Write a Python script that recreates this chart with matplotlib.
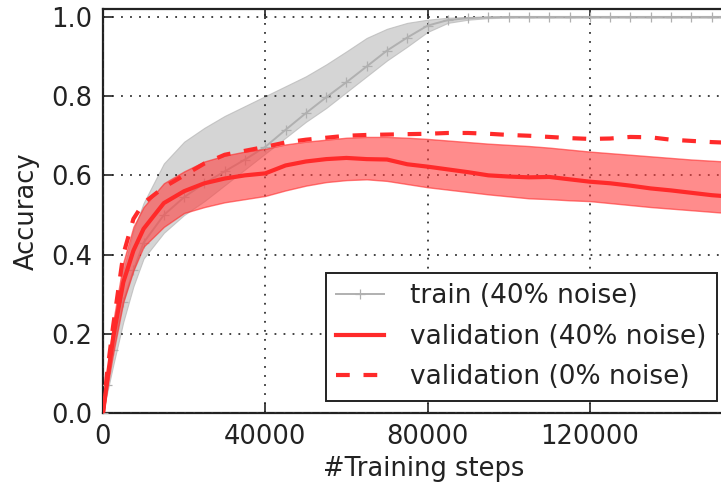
import numpy as np
import matplotlib
matplotlib.use("Agg")
import matplotlib.pyplot as plt

# training steps at which the curves were sampled
steps = [0, 1000, 2500, 5000, 7500, 10000, 15000, 20000, 25000, 30000, 35000,
         40000, 45000, 50000, 55000, 60000, 65000, 70000, 75000, 80000, 85000,
         90000, 95000, 100000, 105000, 110000, 115000, 120000, 125000, 130000,
         135000, 140000, 145000, 150000, 155000]

# train accuracy, 40% label noise (mean, lower, upper)
train_mean = [0.0, 0.07, 0.16, 0.28, 0.36, 0.43, 0.50, 0.545, 0.58, 0.61, 0.64,
              0.672, 0.715, 0.757, 0.797, 0.835, 0.875, 0.915, 0.948, 0.978, 0.992,
              0.997, 0.999, 1.0, 1.0, 1.0, 1.0, 1.0, 1.0, 1.0,
              1.0, 1.0, 1.0, 1.0, 1.0]
train_lo = [0.0, 0.05, 0.12, 0.23, 0.32, 0.39, 0.455, 0.50, 0.535, 0.575, 0.615,
            0.655, 0.695, 0.735, 0.77, 0.81, 0.85, 0.89, 0.925, 0.962, 0.985,
            0.993, 0.997, 0.998, 0.998, 0.998, 0.998, 0.998, 0.998, 0.998,
            0.998, 0.998, 0.998, 0.998, 0.998]
train_hi = [0.0, 0.10, 0.22, 0.36, 0.46, 0.53, 0.63, 0.685, 0.72, 0.75, 0.775,
            0.80, 0.825, 0.85, 0.88, 0.913, 0.947, 0.97, 0.985, 0.993, 0.998,
            1.0, 1.0, 1.0, 1.0, 1.0, 1.0, 1.0, 1.0, 1.0,
            1.0, 1.0, 1.0, 1.0, 1.0]

# validation accuracy, 40% label noise (mean, lower, upper)
val_mean = [0.0, 0.08, 0.19, 0.33, 0.41, 0.465, 0.53, 0.56, 0.58, 0.592, 0.60,
            0.605, 0.625, 0.635, 0.641, 0.644, 0.641, 0.64, 0.628, 0.622, 0.615,
            0.608, 0.60, 0.597, 0.595, 0.596, 0.59, 0.584, 0.58, 0.574,
            0.567, 0.562, 0.556, 0.55, 0.546]
val_lo = [0.0, 0.06, 0.15, 0.28, 0.36, 0.42, 0.47, 0.505, 0.52, 0.532, 0.54,
          0.548, 0.562, 0.574, 0.583, 0.588, 0.59, 0.586, 0.578, 0.57, 0.564,
          0.558, 0.552, 0.547, 0.542, 0.54, 0.537, 0.535, 0.53, 0.525,
          0.52, 0.516, 0.512, 0.508, 0.504]
val_hi = [0.0, 0.10, 0.23, 0.38, 0.47, 0.52, 0.58, 0.61, 0.635, 0.65, 0.66,
          0.667, 0.678, 0.685, 0.69, 0.695, 0.697, 0.697, 0.695, 0.692, 0.688,
          0.684, 0.68, 0.677, 0.674, 0.67, 0.665, 0.66, 0.656, 0.652,
          0.648, 0.644, 0.64, 0.637, 0.634]

# validation accuracy, clean labels
clean_val = [0.0, 0.10, 0.22, 0.40, 0.49, 0.53, 0.57, 0.60, 0.63, 0.652, 0.662,
             0.672, 0.683, 0.69, 0.695, 0.70, 0.702, 0.703, 0.704, 0.705, 0.707,
             0.707, 0.705, 0.702, 0.70, 0.697, 0.694, 0.692, 0.693, 0.697,
             0.696, 0.69, 0.687, 0.684, 0.682]

plt.rcParams['font.family'] = 'DejaVu Sans'
plt.rcParams['font.size'] = 18.5

fig = plt.figure(figsize=(7.21, 4.84), dpi=100)
# axes runs past the right edge of the canvas, as in the cropped original
ax = fig.add_axes([103 / 721, 71 / 484, 641 / 721, 404 / 484])

red = '#ff2a2a'
grey = '#b0b0b0'

ax.fill_between(steps, train_lo, train_hi, facecolor='#c8c8c8', edgecolor='#b8b8b8',
                alpha=0.75, lw=0.8, zorder=2)
ax.plot(steps, train_mean, color=grey, lw=1.4, marker='+', ms=7, mew=0.9,
        label='train (40% noise)', zorder=3)

ax.fill_between(steps, val_lo, val_hi, facecolor='#ff4040', edgecolor=red,
                alpha=0.6, lw=1.0, zorder=4)
ax.plot(steps, val_mean, color=red, lw=3, label='validation (40% noise)', zorder=5)
ax.plot(steps, clean_val, color=red, lw=3, ls=(0, (3.3, 3.3)),
        label='validation (0% noise)', zorder=5)

ax.set_xlim(0, 158000)
ax.set_ylim(0, 1.02)
ax.set_xticks([0, 40000, 80000, 120000])
ax.set_yticks([0.0, 0.2, 0.4, 0.6, 0.8, 1.0])
ax.set_yticklabels(['0.0', '0.2', '0.4', '0.6', '0.8', '1.0'])
ax.tick_params(direction='in', top=True, right=True, length=7, width=1.2,
               labelsize=18.5, pad=8, colors='#222222')
for s in ax.spines.values():
    s.set_linewidth(1.6)
    s.set_color('#222222')
ax.grid(True, ls=(0, (1, 4)), color='#333333', lw=1.3)
ax.set_axisbelow(False)

ax.set_xlabel('#Training steps', fontsize=18.5, color='#222222', labelpad=4)
ax.set_ylabel('Accuracy', fontsize=18.5, color='#222222', labelpad=8)

leg = ax.legend(loc='lower right', bbox_to_anchor=(717 / 721, 83 / 484),
                bbox_transform=fig.transFigure, borderaxespad=0, fancybox=False,
                framealpha=1, edgecolor='#222222', fontsize=19, numpoints=1,
                handlelength=1.8, labelspacing=0.55, handletextpad=1.0)
leg.get_frame().set_linewidth(1.4)
for t in leg.get_texts():
    t.set_color('#222222')

fig.savefig('out.png', dpi=100)
